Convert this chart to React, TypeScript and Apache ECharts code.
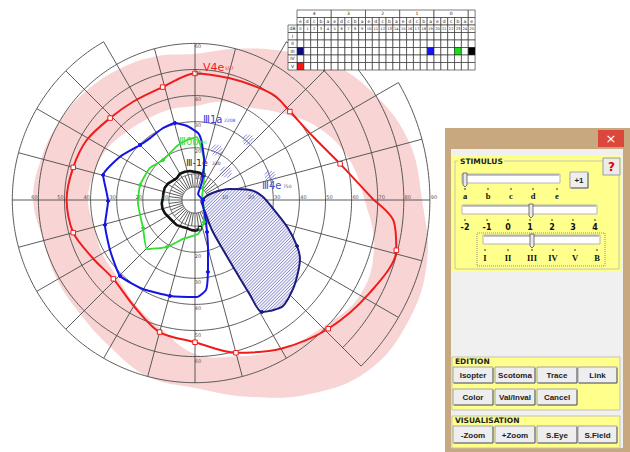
import React, { useEffect, useRef } from "react";
import * as echarts from "echarts";

// ---------- data (polar: [angle in deg CCW from right, eccentricity in deg]) ----------
const BAND_ANGLES = [0, 15, 30, 45, 60, 75, 90, 105, 120, 135, 150, 165, 180, 195, 210, 225, 240, 255, 270, 285, 300, 315, 330, 345];
const BAND_INNER = [65, 61, 55, 47, 41, 39, 36, 36, 36, 37, 39, 40, 41, 40, 41, 42, 46, 51, 59, 62, 66, 69, 73, 71];
const BAND_OUTER = [87, 85, 80, 74, 66, 60, 56, 57, 58, 59, 60, 61, 62, 60, 61, 62, 65, 70, 72, 78, 86, 93, 94, 92];

// [angle, radius, marker]
const V4E = [
  [0, 68.5, 0], [14, 57.3, 1], [28, 51.4, 0], [43, 49.7, 1], [52, 50.3, 0], [60, 49.5, 0], [74, 48.5, 0],
  [90, 48.5, 1], [106, 45, 1], [122, 44.5, 0], [136, 45.2, 1], [151, 47.4, 0], [165, 48.3, 1], [180, 49.2, 0],
  [195, 48.3, 1], [210, 45, 0], [224, 43.5, 1], [240, 46.9, 0], [255, 52.4, 1], [270, 54.5, 1], [285, 60.6, 1],
  [300, 65.8, 0], [316, 71, 1], [332, 75.8, 0], [346, 79.5, 1], [354, 76.5, 0], [360, 68.5, 0],
];
const III1A = [
  [0, 3.1, 1], [63, 2.6, 0], [68, 6.2, 0], [71.6, 9.7, 1], [77, 15.7, 0], [81, 19.4, 0], [84, 23.1, 0],
  [87.4, 25.7, 0], [96, 28.5, 0], [104.6, 30.5, 1], [114, 30.2, 0], [126, 29.3, 0], [135, 29.8, 1],
  [150, 33.2, 0], [164.8, 36.5, 1], [180.7, 33.3, 1], [195.5, 35.8, 1], [210.5, 37.8, 0], [225.4, 40.9, 1],
  [239.7, 39.5, 0], [255.4, 38, 1], [271.2, 37.2, 0], [277, 34.7, 0], [280.2, 28, 1], [284.6, 19.8, 0],
  [290.6, 13.1, 1], [303.7, 6.9, 0], [328, 3.6, 0], [360, 3.1, 0],
];
const III0B = [
  [83.5, 20.4, 0], [88.2, 24.1, 0], [97.6, 23.2, 0], [108.4, 21.8, 0], [128.7, 19.6, 1], [144.6, 21.2, 0],
  [164.7, 21.8, 1], [183, 21.9, 0], [208.3, 22.6, 1], [225.6, 26.3, 0], [239.2, 21, 1], [252.9, 15.6, 0],
  [275, 13.1, 0], [292, 9.1, 1], [318, 4.6, 0], [16, 2.8, 0], [65.8, 8.4, 0], [77.3, 15.7, 0], [83.5, 20.4, 0],
];
const III_1E = [
  [71.6, 10.1, 1], [80, 10.6, 0], [93.4, 10.9, 0], [100, 11.3, 0], [109.5, 11.5, 0], [120, 11.6, 0],
  [130, 10.9, 0], [138, 11.2, 0], [148, 12.1, 0], [158, 12.5, 0], [168, 12.4, 0], [176, 12.3, 0],
  [185.7, 12.8, 0], [195, 12.9, 0], [204, 12.6, 0], [214, 12.0, 0], [225, 11.8, 0], [234, 11.9, 0],
  [243.5, 11.4, 0], [253, 11.2, 0], [263.7, 11.6, 0], [272, 11.8, 0], [280, 11.0, 1],
];
const III4E = [
  [350.5, 2.3, 0], [21.8, 6.2, 0], [17.4, 14.1, 0], [10.3, 21.4, 0], [3.4, 25.7, 0], [352.2, 30.9, 0],
  [343.2, 37.2, 0], [335.7, 42.9, 1], [330.7, 46.1, 0], [325, 48.2, 0], [317.8, 50.7, 0], [309.7, 52.8, 0],
  [304.1, 51.3, 0], [300.9, 50, 1], [300.1, 42, 0], [299.7, 30.9, 0], [299.4, 21.1, 0], [299.5, 13.2, 0],
  [310, 6, 0], [350.5, 2.3, 0],
];
// small hatched (scotoma-like) patches: [angle, radius]
const PATCHES = [[66.3, 20.9], [48.5, 30.7], [42, 16], [17.7, 30.2]];

const TICKS_RIGHT = [10, 20, 30, 40, 50, 60, 70, 80, 90];
const TICKS_LEFT = [10, 20, 30, 40, 50, 60];
const TICKS_TOP = [10, 20, 30, 40, 50, 60];
const TICKS_BOTTOM = [10, 20, 30, 40, 50, 60];

// table
const GROUPS = ["4", "3", "2", "1", "0", ""];
const LETTERS = ["e", "d", "c", "b", "a"];
const ROW_LABELS = ["I", "II", "III", "IV", "V"];
const FILLED = [
  { row: 2, col: 0, color: "#0c0c80" },
  { row: 2, col: 19, color: "#1414ff" },
  { row: 2, col: 23, color: "#18e018" },
  { row: 2, col: 25, color: "#000000" },
  { row: 4, col: 0, color: "#ff1414" },
];

// panel
const SIZE_LABELS = ["a", "b", "c", "d", "e"];
const INT_LABELS = ["-2", "-1", "0", "1", "2", "3", "4"];
const STIM_LABELS = ["I", "II", "III", "IV", "V", "B"];
const EDIT_ROW1 = ["Isopter", "Scotoma", "Trace", "Link"];
const EDIT_ROW2 = ["Color", "Val/Inval", "Cancel"];
const VIS_ROW = ["-Zoom", "+Zoom", "S.Eye", "S.Field"];

const RED = "#f01c1c";
const BLUE = "#1414e6";
const GREEN = "#2ee02e";
const BLACK = "#111111";
const NAVY = "#1c1c80";

function ringSpan(r: number): [number, number] {
  if (r === 70) return [120, 420];
  if (r === 80) return [315, 405];
  if (r === 90) return [315, 390];
  return [0, 360];
}
function outerAt(a: number): number {
  const s = ((a + 45) % 360 + 360) % 360; // shifted so -45 -> 0
  if (s <= 75) return 90; // -45..30
  if (s <= 90) return 80; // ..45
  if (s <= 105) return 70; // ..60
  if (s < 165) return 60; // 60..120
  return 70;
}

function hatch(pts: number[][], step: number) {
  const sums = pts.map((p) => p[0] + p[1]);
  const min = Math.min(...sums);
  const max = Math.max(...sums);
  const segs: any[] = [];
  for (let c = Math.ceil(min / step) * step; c < max; c += step) {
    const xs: number[] = [];
    for (let i = 0; i < pts.length; i++) {
      const p = pts[i];
      const q = pts[(i + 1) % pts.length];
      const s1 = p[0] + p[1] - c;
      const s2 = q[0] + q[1] - c;
      if ((s1 < 0 && s2 >= 0) || (s1 >= 0 && s2 < 0)) {
        const t = s1 / (s1 - s2);
        xs.push(p[0] + t * (q[0] - p[0]));
      }
    }
    xs.sort((a, b) => a - b);
    for (let k = 0; k + 1 < xs.length; k += 2) {
      segs.push({ x1: xs[k], y1: c - xs[k], x2: xs[k + 1], y2: c - xs[k + 1] });
    }
  }
  return segs;
}

function isopter(name: string, data: number[][], color: string, width: number, smooth: number | boolean, markerColor: string, markerSymbol: string, markerSize: number) {
  return {
    type: "line",
    name,
    coordinateSystem: "polar",
    z: 6,
    smooth,
    symbol: markerSymbol,
    symbolSize: markerSize,
    showSymbol: true,
    silent: true,
    lineStyle: { color, width },
    itemStyle: { color: markerColor, borderColor: color, borderWidth: 1 },
    data: data.map(([a, r, m]) => ({ value: [r, a], symbol: m ? markerSymbol : "none" })),
  };
}

function button(x: number, y: number, w: number, h: number, label: string) {
  return [
    { type: "rect", z: 100, shape: { x, y, width: w, height: h }, style: { fill: "#eeeeee", stroke: "#a4a4a4", lineWidth: 1 } },
    { type: "polyline", z: 101, shape: { points: [[x + 1, y + h], [x + w, y + h], [x + w, y + 1]] }, style: { stroke: "#6a6a6a", lineWidth: 1, fill: "none" } },
    { type: "text", z: 102, x: x + w / 2, y: y + h / 2 + 0.5, style: { text: label, fill: "#222", font: "bold 8px 'Liberation Sans'", align: "center", verticalAlign: "middle" } },
  ];
}

function slider(x: number, y: number, w: number, thumbX: number, labels: string[], labelXs: number[], tickY: number, labelY: number, font: string) {
  const els: any[] = [
    { type: "rect", z: 100, shape: { x, y, width: w, height: 9 }, style: { fill: "#ffffff", stroke: "#b4b4b4", lineWidth: 1 } },
    { type: "line", z: 101, shape: { x1: x + 1, y1: y + 1, x2: x + w - 1, y2: y + 1 }, style: { stroke: "#8a8a8a", lineWidth: 1 } },
    { type: "polygon", z: 102, shape: { points: [[thumbX - 2, y - 1], [thumbX + 2, y - 1], [thumbX + 2, y + 11], [thumbX, y + 13], [thumbX - 2, y + 11]] }, style: { fill: "#e8e8e8", stroke: "#555", lineWidth: 0.8 } },
  ];
  labels.forEach((l, i) => {
    els.push({ type: "line", z: 101, shape: { x1: labelXs[i], y1: tickY, x2: labelXs[i], y2: tickY + 2 }, style: { stroke: "#333", lineWidth: 1 } });
    els.push({ type: "text", z: 101, x: labelXs[i], y: labelY, style: { text: l, fill: "#111", font, align: "center", verticalAlign: "middle" } });
  });
  return els;
}

export default function App() {
  const ref = useRef<HTMLDivElement>(null);
  useEffect(() => {
    const chart = echarts.init(ref.current!, undefined, { renderer: "svg" });

    // ---------- table graphic ----------
    const TX = 297, CW = 6.85, LX = 288, LW = 9, TY = 10, RH = 7.5;
    const table: any[] = [];
    const cellStyle = { fill: "#ffffff", stroke: "#222", lineWidth: 0.6 };
    const tfont = "4.5px 'DejaVu Sans'";
    GROUPS.forEach((g, i) => {
      const x = TX + i * 5 * CW;
      const w = i < 5 ? 5 * CW : CW;
      table.push({ type: "rect", z: 100, shape: { x, y: TY, width: w, height: RH }, style: cellStyle });
      if (g) table.push({ type: "text", z: 101, x: x + w / 2, y: TY + RH / 2, style: { text: g, fill: "#222", font: tfont, align: "center", verticalAlign: "middle" } });
    });
    for (let c = 0; c < 26; c++) {
      const x = TX + c * CW;
      table.push({ type: "rect", z: 100, shape: { x, y: TY + RH, width: CW, height: RH }, style: cellStyle });
      table.push({ type: "text", z: 101, x: x + CW / 2, y: TY + RH * 1.5, style: { text: LETTERS[c % 5], fill: "#222", font: tfont, align: "center", verticalAlign: "middle" } });
      table.push({ type: "rect", z: 100, shape: { x, y: TY + RH * 2, width: CW, height: RH }, style: cellStyle });
      table.push({ type: "text", z: 101, x: x + CW / 2, y: TY + RH * 2.5, style: { text: String(c), fill: "#222", font: "3.6px 'DejaVu Sans'", align: "center", verticalAlign: "middle" } });
      for (let r = 0; r < 5; r++) {
        const f = FILLED.find((q) => q.row === r && q.col === c);
        table.push({ type: "rect", z: 100, shape: { x, y: TY + RH * (3 + r), width: CW, height: RH }, style: { ...cellStyle, fill: f ? f.color : "#ffffff" } });
      }
    }
    table.push({ type: "rect", z: 100, shape: { x: LX, y: TY + RH * 2, width: LW, height: RH }, style: cellStyle });
    table.push({ type: "text", z: 101, x: LX + LW / 2, y: TY + RH * 2.5, style: { text: "dB", fill: "#222", font: tfont, align: "center", verticalAlign: "middle" } });
    ROW_LABELS.forEach((l, r) => {
      table.push({ type: "rect", z: 100, shape: { x: LX, y: TY + RH * (3 + r), width: LW, height: RH }, style: cellStyle });
      table.push({ type: "text", z: 101, x: LX + LW / 2, y: TY + RH * (3.5 + r), style: { text: l, fill: "#222", font: tfont, align: "center", verticalAlign: "middle" } });
    });

    // ---------- panel graphic ----------
    const Y = "#ffff8c";
    const panel: any[] = [
      { type: "rect", z: 99, shape: { x: 445, y: 128, width: 185, height: 324 }, style: { fill: "#c8a97f" } },
      { type: "rect", z: 99, shape: { x: 451, y: 149, width: 172, height: 299 }, style: { fill: "#f0f0f0" } },
      { type: "rect", z: 100, shape: { x: 598, y: 130, width: 26, height: 17 }, style: { fill: "#d9483b" } },
      { type: "text", z: 101, x: 611, y: 138.5, style: { text: "×", fill: "#ffffff", font: "13px 'DejaVu Sans'", align: "center", verticalAlign: "middle" } },
      { type: "rect", z: 100, shape: { x: 452, y: 155, width: 170, height: 117 }, style: { fill: Y } },
      { type: "rect", z: 100, shape: { x: 455, y: 161, width: 164, height: 108 }, style: { fill: "none", stroke: "#c4c4b4", lineWidth: 1 } },
      { type: "rect", z: 100, shape: { x: 458, y: 157, width: 46, height: 8 }, style: { fill: Y } },
      { type: "text", z: 101, x: 460, y: 161.5, style: { text: "STIMULUS", fill: "#222", font: "bold 7.5px 'DejaVu Sans'", align: "left", verticalAlign: "middle" } },
      { type: "rect", z: 100, shape: { x: 603, y: 158, width: 17, height: 17 }, style: { fill: "#ececec", stroke: "#9c9c9c", lineWidth: 1 } },
      { type: "text", z: 101, x: 611.5, y: 167, style: { text: "?", fill: "#e00000", font: "bold 12px 'DejaVu Sans'", align: "center", verticalAlign: "middle" } },
      ...button(570, 172, 18, 16, "+1"),
      ...slider(462, 174, 98, 465, SIZE_LABELS, [465, 488, 511, 533, 557], 188, 196, "bold 8.5px 'Liberation Serif'"),
      ...slider(462, 205, 135, 531, INT_LABELS, [465, 487, 508, 530, 552, 573, 595], 219, 227, "bold 8px 'DejaVu Sans'"),
      { type: "rect", z: 100, shape: { x: 477, y: 233, width: 128, height: 33 }, style: { fill: "none", stroke: "#777", lineWidth: 0.8, lineDash: [1, 1] } },
      ...slider(483, 235, 117, 532, STIM_LABELS, [485, 508, 532, 553, 575, 597], 249, 258, "bold 8.5px 'Liberation Serif'"),
      { type: "rect", z: 100, shape: { x: 452, y: 357, width: 168, height: 53 }, style: { fill: Y, stroke: "#c4c4b4", lineWidth: 1 } },
      { type: "text", z: 101, x: 455, y: 361.5, style: { text: "EDITION", fill: "#222", font: "bold 7.5px 'DejaVu Sans'", align: "left", verticalAlign: "middle" } },
      { type: "rect", z: 100, shape: { x: 452, y: 416, width: 168, height: 32 }, style: { fill: Y, stroke: "#c4c4b4", lineWidth: 1 } },
      { type: "text", z: 101, x: 455, y: 420.5, style: { text: "VISUALISATION", fill: "#222", font: "bold 7.5px 'DejaVu Sans'", align: "left", verticalAlign: "middle" } },
    ];
    const BX = [453, 495, 537, 578];
    const BW = [40, 40, 40, 39];
    EDIT_ROW1.forEach((l, i) => panel.push(...button(BX[i], 367, BW[i], 16, l)));
    EDIT_ROW2.forEach((l, i) => panel.push(...button(BX[i], 389, BW[i], 16, l)));
    VIS_ROW.forEach((l, i) => panel.push(...button(BX[i], 426, BW[i], 17, l)));

    // ---------- isopter labels ----------
    const lab = (x: number, y: number, t: string, color: string, size: number) => ({
      type: "text", z: 50, x, y, style: { text: t, fill: color, font: `${size}px 'DejaVu Sans'`, align: "left", verticalAlign: "middle" },
    });
    const labels = [
      lab(203, 67, "V4e", RED, 11), lab(225, 68, "557", RED, 4.5),
      lab(203, 119, "Ⅲ1a", "#3c3ce0", 10), lab(224, 120, "2208", "#3c3ce0", 4.5),
      lab(179, 141, "Ⅲ0b", "#3ee03e", 10), lab(198, 142, "990", "#3ee03e", 4.5),
      lab(186, 162, "Ⅲ-1e", "#333333", 9.5), lab(212, 163, "230", "#333333", 4.5),
      lab(262, 185, "Ⅲ4e", "#4e4ec4", 10), lab(283, 186, "750", "#4e4ec4", 4.5),
    ];

    const tickData = [
      ...TICKS_RIGHT.map((v) => [v, 0]),
      ...TICKS_TOP.map((v) => [v, 90]),
      ...TICKS_LEFT.map((v) => [v, 180]),
      ...TICKS_BOTTOM.map((v) => [v, 270]),
    ];

    const option: any = {
      animation: false,
      backgroundColor: "#ffffff",
      polar: { center: [195, 200], radius: 261 },
      radiusAxis: { type: "value", min: 0, max: 100, show: false },
      angleAxis: { type: "value", min: 0, max: 360, startAngle: 0, clockwise: false, show: false },
      series: [
        {
          type: "custom", coordinateSystem: "polar", z: 1, silent: true, data: [[0, 0]],
          renderItem: (_p: any, api: any) => {
            const outer = BAND_ANGLES.map((a, i) => api.coord([BAND_OUTER[i], a]));
            const inner = BAND_ANGLES.map((a, i) => api.coord([BAND_INNER[i], a]));
            return {
              type: "group", children: [
                { type: "polygon", shape: { points: outer, smooth: 0.4 }, style: { fill: "#f9d4d4" } },
                { type: "polygon", shape: { points: inner, smooth: 0.4 }, style: { fill: "#ffffff" } },
              ],
            };
          },
        },
        {
          type: "custom", coordinateSystem: "polar", z: 2, silent: true, data: [[0, 0]],
          renderItem: (_p: any, api: any) => {
            const children: any[] = [];
            const st = { stroke: "#4a4a4a", lineWidth: 0.9, fill: "none" };
            [5, 10, 20, 30, 40, 50, 60, 70, 80, 90].forEach((r) => {
              const [a0, a1] = ringSpan(r);
              const pts: number[][] = [];
              for (let a = a0; a <= a1 + 1e-6; a += 1) pts.push(api.coord([r, a % 360]));
              children.push({ type: "polyline", shape: { points: pts }, style: st });
            });
            for (let a = 0; a < 360; a += 15) {
              const r0 = a % 90 === 0 ? 0 : 5;
              const p0 = api.coord([r0, a]);
              const p1 = api.coord([outerAt(a), a]);
              children.push({ type: "line", shape: { x1: p0[0], y1: p0[1], x2: p1[0], y2: p1[1] }, style: st });
            }
            for (let a = 7.5; a < 360; a += 15) {
              const p0 = api.coord([5, a]);
              const p1 = api.coord([10, a]);
              children.push({ type: "line", shape: { x1: p0[0], y1: p0[1], x2: p1[0], y2: p1[1] }, style: st });
            }
            return { type: "group", children };
          },
        },
        {
          type: "custom", coordinateSystem: "polar", z: 3, silent: true, data: [[0, 0]],
          renderItem: (_p: any, api: any) => {
            const pts = III4E.map(([a, r]) => api.coord([r, a]));
            const segs = hatch(pts, 3.2);
            return {
              type: "group", children: [
                { type: "polygon", shape: { points: pts }, style: { fill: "#f2f2fb" } },
                ...segs.map((s) => ({ type: "line", shape: s, style: { stroke: "#5c5cb4", lineWidth: 0.7 } })),
              ],
            };
          },
        },
        {
          type: "custom", coordinateSystem: "polar", z: 3, silent: true,
          data: PATCHES.map(([a, r]) => [r, a]),
          renderItem: (_p: any, api: any) => {
            const c = api.coord([api.value(0), api.value(1)]);
            const children: any[] = [];
            const lens = [3, 5, 6, 5, 3];
            lens.forEach((L, k) => {
              const off = (k - 2) * 2.4;
              const cx = c[0] + off * 0.707, cy = c[1] + off * 0.707;
              children.push({ type: "line", shape: { x1: cx - L * 0.707, y1: cy + L * 0.707, x2: cx + L * 0.707, y2: cy - L * 0.707 }, style: { stroke: "#7474d8", lineWidth: 0.9 } });
            });
            return { type: "group", children };
          },
        },
        isopter("III4e", III4E, NAVY, 2, 0.3, NAVY, "circle", 3),
        isopter("III-1e", III_1E, BLACK, 2.6, false, "#ffffff", "rect", 3.5),
        isopter("III0b", III0B, GREEN, 1.8, 0.15, GREEN, "circle", 3),
        isopter("III1a", III1A, BLUE, 2, 0.15, BLUE, "circle", 3.2),
        isopter("V4e", V4E, RED, 2, 0.3, "#ffffff", "rect", 4.5),
        {
          type: "custom", coordinateSystem: "polar", z: 8, silent: true, data: tickData,
          renderItem: (_p: any, api: any) => {
            const v = api.value(0), a = api.value(1);
            const p = api.coord([v, a]);
            const off: Record<number, number[]> = { 0: [4, -3], 90: [3, 3], 180: [-4, -3], 270: [3, 4] };
            const o = off[a] || [0, 0];
            return { type: "text", x: p[0] + o[0], y: p[1] + o[1], style: { text: String(v), fill: "#555", font: "5px 'DejaVu Sans'", align: "center", verticalAlign: "middle" } };
          },
        },
      ],
      graphic: { elements: [...labels, ...table, ...panel] },
    };
    chart.setOption(option);
    return () => chart.dispose();
  }, []);
  return <div ref={ref} style={{ position: "fixed", left: 0, top: 0, width: 630, height: 452, background: "#fff" }} />;
}
